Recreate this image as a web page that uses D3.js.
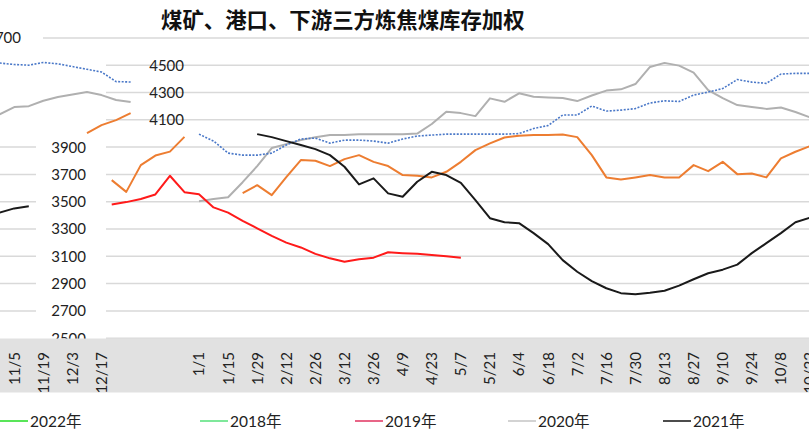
<!DOCTYPE html>
<html><head><meta charset="utf-8">
<script src="https://cdn.jsdelivr.net/npm/d3@7/dist/d3.min.js"></script>
<style>
html,body{margin:0;padding:0;background:#fff;}
svg{display:block;font-family:Lato,"Noto Sans CJK SC",sans-serif;}
</style></head>
<body><svg id="c" width="809" height="436"></svg>
<script>
// ---------------- data ----------------
const title = "煤矿、港口、下游三方炼焦煤库存加权";
// week index: 0 = 1/1, each step one week; weeks >= 43 wrap to the left edge of the picture
const weeks = [-6,-5,-4,-3,-2,-1,0,1,2,3,4,5,6,7,8,9,10,11,12,13,14,15,16,17,18,19,20,21,22,23,24,25,26,27,28,29,30,31,32,33,34,35,36,37,38,39,40,41,42,43,44,45,46,47,48,49,50,51,52];
const tickWeeks  = [44,46,48,50,0,2,4,6,8,10,12,14,16,18,20,22,24,26,28,30,32,34,36,38,40,42];
const tickLabels = ["11/5","11/19","12/3","12/17","1/1","1/15","1/29","2/12","2/26","3/12","3/26","4/9","4/23","5/7","5/21","6/4","6/18","7/2","7/16","7/30","8/13","8/27","9/10","9/24","10/8","10/22"];
const yTicks = [2500,2700,2900,3100,3300,3500,3700,3900,4100,4300,4500,4700];

const seriesOrange = [3658,3572,3768,3838,3867,3975, null,null,null,
  3563,3621,3548,3680,3805,3800,3761,3812,3841,3792,3761,3695,3690,3678,3719,3792,3878,3927,
  3970,3984,3988,3988,3992,3973,3841,3678,3663,3678,3695,3678,3678,3768,3724,3792,3702,3707,3678,3817,3866,3907,
  null,null,null,null,null,null,4003,4061,4098,4149];
const seriesBlue = [null,null,null,null,null,null,
  3995,3944,3856,3841,3841,3856,3915,3959,3966,3929,3951,3951,3944,3929,3959,3981,3988,3995,3995,3995,3995,3995,3999,
  4036,4058,4135,4135,4201,4164,4171,4182,4223,4239,4234,4281,4303,4329,4395,4376,4367,4435,4440,4440,
  4516,4505,4500,4520,4510,4490,4470,4450,4380,4377];
const series2019 = [3480,3497,3520,3553,3690,3570,3555,3458,3420,3360,3305,3250,3200,3165,3118,3085,3060,3078,3090,3130,3123,3118,3110,3100,3089,
  null,null,null,null,null,null,null,null,null,null,null,null,null,null,null,null,null,null,null,null,null,null,null,null,
  null,null,null,null,null,null,null,null,null,null];
const series2020 = [null,null,null,null,null,null,
  3504,3519,3533,3643,3761,3893,3922,3951,3973,3988,3988,3995,3995,3995,3995,3999,4069,4159,4149,4127,4257,4232,4294,
  4269,4264,4259,4237,4278,4314,4323,4362,4487,4517,4497,4446,4318,4259,4208,4193,4180,4190,4157,4118,
  4140,4193,4200,4240,4267,4285,4303,4281,4245,4230];
const series2021 = [null,null,null,null,null,null,null,null,null,null,
  3995,3973,3944,3915,3885,3841,3756,3627,3671,3561,3536,3646,3719,3695,3638,3511,3379,3350,3343,3270,
  3189,3072,2987,2918,2866,2830,2822,2833,2848,2885,2932,2976,3002,3039,3123,3196,3270,3350,3383,
  3420,3451,3466,null,null,null,null,null,null,null];

const legendNames = ["2022年","2018年","2019年","2020年","2021年"];
const legendColors = ["#22dd22","#55e07a","#e0325f","#c4c4c4","#111111"];

// ---------------- drawing ----------------
const svg = d3.select("#c");
const W = 809, H = 436;
const WRAP = 56.7;             // weeks shifted back to the left edge
const x = d3.scaleLinear().domain([0, 42]).range([199, 810]);
const xw = w => x(w >= 43 ? w - WRAP : w);
const y = d3.scaleLinear().domain([2500, 4700]).range([338.2, 37.9]);

// gridlines
const grid = svg.append("g");
yTicks.forEach(t => {
  grid.append("line").attr("x1", t === 4700 ? 43 : 106).attr("x2", W)
    .attr("y1", y(t)).attr("y2", y(t)).attr("stroke", "#d9d9d9").attr("stroke-width", 1.5);
  if (t >= 2700 && t <= 3900)
    grid.append("line").attr("x1", 0).attr("x2", 36)
      .attr("y1", y(t)).attr("y2", y(t)).attr("stroke", "#d9d9d9").attr("stroke-width", 1.5);
});

// y tick labels
svg.append("g").selectAll("text").data(yTicks).join("text")
  .attr("x", d => d === 4700 ? 21 : (d >= 4100 ? 184 : 86))
  .attr("y", d => y(d)).attr("dy", "0.36em")
  .attr("text-anchor", "end").attr("font-size", 15).attr("fill", "#222")
  .text(d => d);

// series
const lineMain = d3.line().defined(d => d.v != null && d.w < 43).x(d => xw(d.w)).y(d => y(d.v));
const lineWrap = d3.line().defined(d => d.v != null && d.w >= 43).x(d => xw(d.w)).y(d => y(d.v));
const drawSeries = (vals, color, dash, width) => {
  const pts = weeks.map((w, i) => ({w, v: vals[i]}));
  [lineMain, lineWrap].forEach(gen => {
    svg.append("path").attr("d", gen(pts)).attr("fill", "none")
      .attr("stroke", color).attr("stroke-width", width)
      .attr("stroke-dasharray", dash).attr("stroke-linejoin", "round");
  });
};
drawSeries(series2020, "#b0b0b0", null, 2);
drawSeries(seriesBlue, "#4a78c8", "2,1.5", 1.6);
drawSeries(seriesOrange, "#ED7D31", null, 2);
drawSeries(series2019, "#ff1a1a", null, 2);
drawSeries(series2021, "#1a1a1a", null, 2);

// x-axis band and labels
svg.append("rect").attr("x", 0).attr("y", 338.5).attr("width", W).attr("height", 54)
  .attr("fill", "#e1e1e1");
svg.append("g").selectAll("text").data(tickWeeks).join("text")
  .attr("transform", d => `translate(${xw(d)},352) rotate(-90)`)
  .attr("dy", "0.36em").attr("text-anchor", "end")
  .attr("font-size", 15).attr("fill", "#222")
  .text((d, i) => tickLabels[i]);

// title
svg.append("text").attr("x", 161).attr("y", 28)
  .attr("font-family", "'Noto Sans CJK SC',sans-serif").attr("font-weight", "bold")
  .attr("font-size", 21.4).attr("fill", "#111").text(title);

// legend
const legX = [0, 200, 355, 508, 663];
const leg = svg.append("g");
legendNames.forEach((n, i) => {
  leg.append("line").attr("x1", legX[i]).attr("x2", legX[i] + 28)
    .attr("y1", 421).attr("y2", 421).attr("stroke", legendColors[i]).attr("stroke-width", 1.5);
  leg.append("text").attr("x", legX[i] + 30).attr("y", 421).attr("dy", "0.36em")
    .attr("font-size", 15.5).attr("fill", "#222").text(n);
});
</script></body></html>
